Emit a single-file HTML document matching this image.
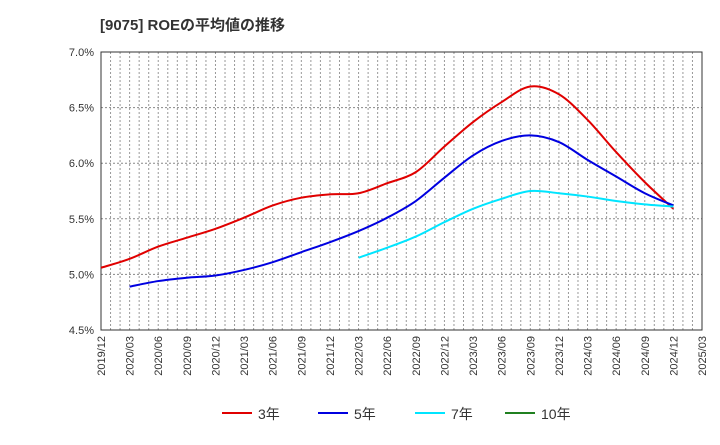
<!DOCTYPE html>
<html><head><meta charset="utf-8"><style>
body{margin:0;background:#fff;font-family:"Liberation Sans","Noto Sans CJK JP",sans-serif;}
svg text{font-family:"Liberation Sans","Noto Sans CJK JP",sans-serif;fill:#333;}
</style></head><body>
<svg id="c" width="720" height="440" xmlns="http://www.w3.org/2000/svg">
<text x="100" y="30" font-size="15" font-weight="bold">[9075]  ROEの平均値の推移</text>
<g id="grid"></g><g id="axes"></g><g id="series"></g><g id="legend"></g>
</svg>
<script>
const xLabels=["2019/12","2020/03","2020/06","2020/09","2020/12","2021/03","2021/06","2021/09","2021/12","2022/03","2022/06","2022/09","2022/12","2023/03","2023/06","2023/09","2023/12","2024/03","2024/06","2024/09","2024/12","2025/03"];
const yTicks=[4.5,5.0,5.5,6.0,6.5,7.0];
const s3=[5.06,5.14,5.25,5.33,5.41,5.51,5.62,5.69,5.72,5.73,5.82,5.92,6.15,6.37,6.55,6.69,6.62,6.39,6.10,5.83,5.59];
const s5=[null,4.89,4.94,4.97,4.99,5.04,5.11,5.20,5.29,5.39,5.51,5.66,5.87,6.07,6.20,6.25,6.19,6.03,5.88,5.73,5.62];
const s7=[null,null,null,null,null,null,null,null,null,5.15,5.24,5.34,5.47,5.59,5.68,5.75,5.73,5.70,5.66,5.63,5.61];
const s10=[];
const NS="http://www.w3.org/2000/svg";
const L=101,R=702,T=52,B=330,yMin=4.5,yMax=7.0;
const nQ=xLabels.length-1;
const xq=i=>L+(R-L)*i/nQ;
const y=v=>B-(v-yMin)/(yMax-yMin)*(B-T);
function mk(tag,attrs,parent){const e=document.createElementNS(NS,tag);for(const k in attrs)e.setAttribute(k,attrs[k]);parent.appendChild(e);return e;}
const grid=document.getElementById('grid'),axes=document.getElementById('axes'),ser=document.getElementById('series'),leg=document.getElementById('legend');
for(let m=1;m<nQ*3;m++){const x=L+(R-L)*m/(nQ*3);
const g=mk('line',{x1:x,x2:x,y1:T,y2:B,stroke:'#999','stroke-dasharray':'2,2','stroke-width':1},grid);

}
yTicks.forEach(v=>{
if(v>yMin&&v<yMax){const g=mk('line',{x1:L,x2:R,y1:y(v),y2:y(v),stroke:'#888','stroke-dasharray':'2,2'},grid);

}
const t=mk('text',{x:L-7,y:y(v)+4,'text-anchor':'end','font-size':11},axes);t.textContent=v.toFixed(1)+'%';

});
const fr=mk('rect',{x:L,y:T,width:R-L,height:B-T,fill:'none',stroke:'#333','stroke-width':1},axes);


xLabels.forEach((lb,i)=>{const x=xq(i);const t=mk('text',{x:0,y:0,'text-anchor':'end','font-size':11,transform:`translate(${x+4},${B+6}) rotate(-90)`},axes);t.textContent=lb;

});
function path(data,color,name){const pts=[];data.forEach((v,i)=>{if(v!=null)pts.push([xq(i),y(v)]);});if(pts.length<2)return;
let d=`M${pts[0][0]},${pts[0][1]}`;
for(let i=0;i<pts.length-1;i++){const p0=pts[Math.max(0,i-1)],p1=pts[i],p2=pts[i+1],p3=pts[Math.min(pts.length-1,i+2)];
const c1=[p1[0]+(p2[0]-p0[0])/6,p1[1]+(p2[1]-p0[1])/6],c2=[p2[0]-(p3[0]-p1[0])/6,p2[1]-(p3[1]-p1[1])/6];
d+=` C${c1[0]},${c1[1]} ${c2[0]},${c2[1]} ${p2[0]},${p2[1]}`;}
const p=mk('path',{d:d,fill:'none',stroke:color,'stroke-width':2},ser);

}
path(s3,'#e00000','series-3y');path(s5,'#0000e0','series-5y');path(s7,'#00e5ff','series-7y');path(s10,'#208020','series-10y');
[['3年','#e00000',222],['5年','#0000e0',318],['7年','#00e5ff',415],['10年','#208020',505]].forEach(([n,c,x])=>{
const g=mk('g',{},leg);


mk('line',{x1:x,x2:x+30,y1:413,y2:413,stroke:c,'stroke-width':2},g);
const t=mk('text',{x:x+36,y:419,'font-size':14},g);t.textContent=n;});
</script>
</body></html>
